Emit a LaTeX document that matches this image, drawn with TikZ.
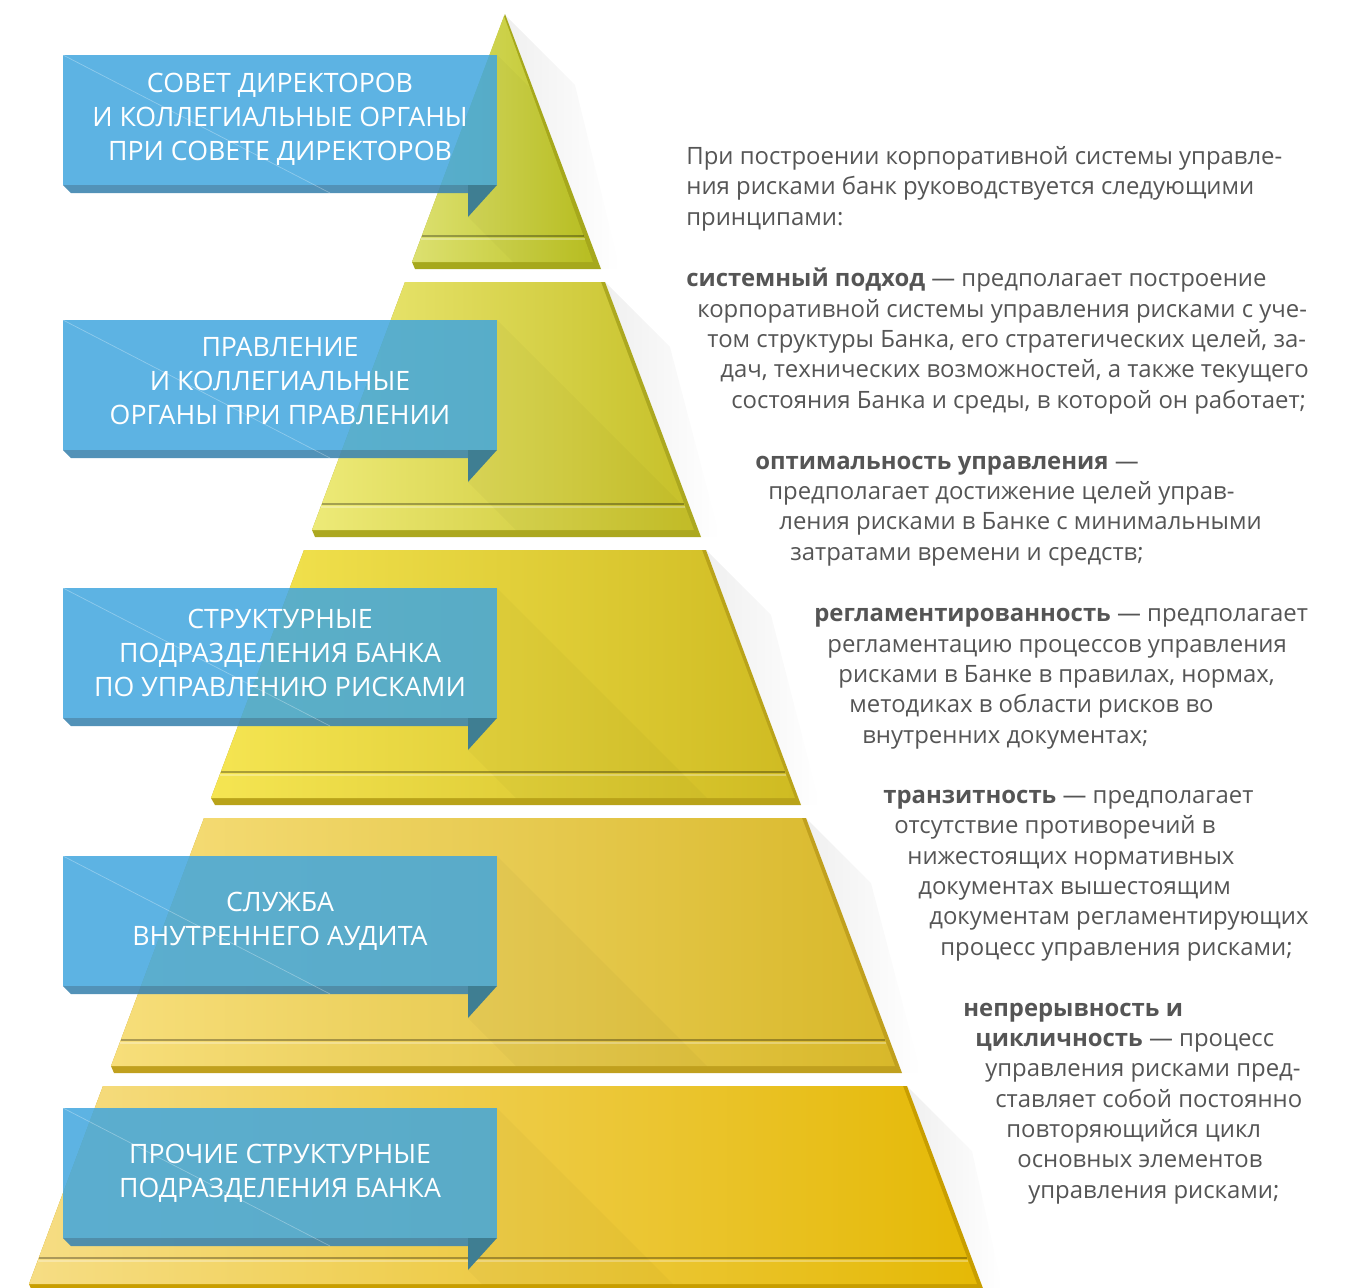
\documentclass[tikz,border=0pt]{standalone}
\usepackage{fontspec}
\setmainfont{Open Sans}
\definecolor{bannerblue}{HTML}{41A6DE}
\definecolor{bannerstrip}{HTML}{3F86B0}
\definecolor{bannerfold}{HTML}{3F7E92}
\definecolor{textgray}{HTML}{555555}
\definecolor{lvlAl}{HTML}{DCE070}\definecolor{lvlAm}{HTML}{C8D020}\definecolor{lvlAr}{HTML}{BCC222}\definecolor{lvlAd}{HTML}{A6A81C}
\definecolor{lvlBl}{HTML}{EDEA78}\definecolor{lvlBm}{HTML}{D6D232}\definecolor{lvlBr}{HTML}{C6C028}\definecolor{lvlBd}{HTML}{ACA820}
\definecolor{lvlCl}{HTML}{F5E552}\definecolor{lvlCm}{HTML}{E2CE30}\definecolor{lvlCr}{HTML}{CFBB22}\definecolor{lvlCd}{HTML}{B9A31A}
\definecolor{lvlDl}{HTML}{F7DE7A}\definecolor{lvlDm}{HTML}{ECCB3E}\definecolor{lvlDr}{HTML}{D8B82A}\definecolor{lvlDd}{HTML}{C0A01E}
\definecolor{lvlEl}{HTML}{F6DD84}\definecolor{lvlEm}{HTML}{EEC72E}\definecolor{lvlEr}{HTML}{E5B906}\definecolor{lvlEd}{HTML}{C89E00}
\newlength{\pixel}\setlength{\pixel}{0.02cm}
\newcommand{\indl}[1]{\hspace*{#1\pixel}}

\begin{document}
\begin{tikzpicture}[
            x=0.02cm, y=-0.02cm,
            lvlA/.style={left color=lvlAl, middle color=lvlAm, right color=lvlAr},
            lvlB/.style={left color=lvlBl, middle color=lvlBm, right color=lvlBr},
            lvlC/.style={left color=lvlCl, middle color=lvlCm, right color=lvlCr},
            lvlD/.style={left color=lvlDl, middle color=lvlDm, right color=lvlDr},
            lvlE/.style={left color=lvlEl, middle color=lvlEm, right color=lvlEr},
            sideshade/.style={left color=black!6, right color=white},
            groove/.style={draw=black, opacity=0.3, line width=0.9pt},
            glint/.style={draw=white, opacity=0.3, line width=0.8pt},
            castshade/.style={fill=black, opacity=0.025},
            banner/.style={fill=bannerblue, fill opacity=0.85},
            strip/.style={fill=bannerstrip, fill opacity=0.9},
            fold/.style={fill=bannerfold},
            btext/.style={text=white, align=center, inner sep=0pt, font=\fontsize{15.2}{19.3}\selectfont},
            para/.style={text=textgray, align=left, anchor=base west, inner sep=0pt, font=\fontsize{13.6}{17.25}\selectfont}
            ]
            \useasboundingbox (0,0) rectangle (1350,1288);
            % soft shadows right of the steps
            \path[sideshade] (505,15) -- (575,85) -- (620,269) -- (601,269) -- cycle;
            \path[sideshade] (605,282) -- (670,347) -- (720,537) -- (701,537) -- cycle;
            \path[sideshade] (706,550) -- (771,615) -- (820,805) -- (801,805) -- cycle;
            \path[sideshade] (806,818) -- (871,883) -- (921,1073) -- (902,1073) -- cycle;
            \path[sideshade] (907,1086) -- (972,1151) -- (1003,1291) -- (984,1291) -- cycle;

            % step 1
            \fill[lvlAd] (505,14) -- (601,269) -- (415,269) -- (412,262) -- cycle;
            \path[lvlA] (504,16) -- (593,262) -- (412,262) -- cycle;
            \draw[groove] (422,236) -- (584,236);
            \draw[glint] (421,239) -- (585,239);
            % step 2
            \fill[lvlBd] (405,282) -- (605,282) -- (701,537) -- (315,537) -- (312,530) -- cycle;
            \path[lvlB] (405,282) -- (601,282) -- (694,530) -- (312,530) -- cycle;
            \draw[groove] (322,504) -- (684,504);
            \draw[glint] (321,507) -- (685,507);
            % step 3
            \fill[lvlCd] (304,550) -- (706,550) -- (801,805) -- (215,805) -- (211,798) -- cycle;
            \path[lvlC] (304,550) -- (702,550) -- (795,798) -- (211,798) -- cycle;
            \draw[groove] (221,772) -- (785,772);
            \draw[glint] (220,775) -- (786,775);
            % step 4
            \fill[lvlDd] (204,818) -- (806,818) -- (902,1073) -- (114,1073) -- (111,1066) -- cycle;
            \path[lvlD] (204,818) -- (802,818) -- (895,1066) -- (111,1066) -- cycle;
            \draw[groove] (121,1040) -- (885,1040);
            \draw[glint] (120,1043) -- (886,1043);
            % step 5
            \fill[lvlEd] (103,1086) -- (907,1086) -- (984,1291) -- (32,1291) -- (29,1284) -- cycle;
            \path[lvlE] (103,1086) -- (903,1086) -- (977,1284) -- (29,1284) -- cycle;
            \draw[groove] (39,1258) -- (967,1258);
            \draw[glint] (38,1261) -- (968,1261);

            % shade cast by the banners
            \begin{scope}
              \clip (504,16) -- (593,262) -- (412,262) -- cycle;
              \fill[castshade] (497,55) -- (497,185) -- (468,217) -- (513,262) -- (704,262) -- cycle;
            \end{scope}
            \begin{scope}
              \clip (405,282) -- (601,282) -- (694,530) -- (312,530) -- cycle;
              \fill[castshade] (497,320) -- (497,450) -- (468,482) -- (516,530) -- (707,530) -- cycle;
            \end{scope}
            \begin{scope}
              \clip (304,550) -- (702,550) -- (795,798) -- (211,798) -- cycle;
              \fill[castshade] (497,588) -- (497,718) -- (468,750) -- (516,798) -- (707,798) -- cycle;
            \end{scope}
            \begin{scope}
              \clip (204,818) -- (802,818) -- (895,1066) -- (111,1066) -- cycle;
              \fill[castshade] (497,856) -- (497,986) -- (468,1018) -- (516,1066) -- (707,1066) -- cycle;
            \end{scope}
            \begin{scope}
              \clip (103,1086) -- (903,1086) -- (977,1284) -- (29,1284) -- cycle;
              \fill[castshade] (497,1108) -- (497,1238) -- (468,1270) -- (482,1284) -- (673,1284) -- cycle;
            \end{scope}

            % banners
            \fill[banner] (63,55) rectangle (497,185);
            \fill[strip] (63,185) -- (468,185) -- (468,193) -- (71,193) -- cycle;
            \fill[fold] (468,185) -- (497,185) -- (468,217) -- cycle;
            \draw[glint, line width=0.4pt] (63,55) -- (330,193);
            \fill[banner] (63,320) rectangle (497,450);
            \fill[strip] (63,450) -- (468,450) -- (468,458) -- (71,458) -- cycle;
            \fill[fold] (468,450) -- (497,450) -- (468,482) -- cycle;
            \draw[glint, line width=0.4pt] (63,320) -- (330,458);
            \fill[banner] (63,588) rectangle (497,718);
            \fill[strip] (63,718) -- (468,718) -- (468,726) -- (71,726) -- cycle;
            \fill[fold] (468,718) -- (497,718) -- (468,750) -- cycle;
            \draw[glint, line width=0.4pt] (63,588) -- (330,726);
            \fill[banner] (63,856) rectangle (497,986);
            \fill[strip] (63,986) -- (468,986) -- (468,994) -- (71,994) -- cycle;
            \fill[fold] (468,986) -- (497,986) -- (468,1018) -- cycle;
            \draw[glint, line width=0.4pt] (63,856) -- (330,994);
            \fill[banner] (63,1108) rectangle (497,1238);
            \fill[strip] (63,1238) -- (468,1238) -- (468,1246) -- (71,1246) -- cycle;
            \fill[fold] (468,1238) -- (497,1238) -- (468,1270) -- cycle;
            \draw[glint, line width=0.4pt] (63,1108) -- (330,1246);

            \node[btext] (board) at (280,119) {СОВЕТ ДИРЕКТОРОВ\\И КОЛЛЕГИАЛЬНЫЕ ОРГАНЫ\\ПРИ СОВЕТЕ ДИРЕКТОРОВ};
            \node[btext] (mgmt) at (280,381) {ПРАВЛЕНИЕ\\И КОЛЛЕГИАЛЬНЫЕ\\ОРГАНЫ ПРИ ПРАВЛЕНИИ};
            \node[btext] (riskunits) at (280,653) {СТРУКТУРНЫЕ\\ПОДРАЗДЕЛЕНИЯ БАНКА\\ПО УПРАВЛЕНИЮ РИСКАМИ};
            \node[btext] (audit) at (280,921) {СЛУЖБА\\ВНУТРЕННЕГО АУДИТА};
            \node[btext] (otherunits) at (280,1173) {ПРОЧИЕ СТРУКТУРНЫЕ\\ПОДРАЗДЕЛЕНИЯ БАНКА};

            % principles (anchored at the baseline of the last line)
            \node[para] (intro) at (686,225) {При построении корпоративной системы управле-\\ния рисками банк руководствуется следующими\\принципами:};
            \node[para] (systemic) at (686,408) {{\bfseries системный подход} — предполагает построение\\\indl{11}корпоративной системы управления рисками с уче-\\\indl{21}том структуры Банка, его стратегических целей, за-\\\indl{34}дач, технических возможностей, а также текущего\\\indl{45}состояния Банка и среды, в которой он работает;};
            \node[para] (optimal) at (755,560) {{\bfseries оптимальность управления} —\\\indl{13}предполагает достижение целей управ-\\\indl{24}ления рисками в Банке с минимальными\\\indl{35}затратами времени и средств;};
            \node[para] (regulated) at (814,743) {{\bfseries регламентированность} — предполагает\\\indl{13}регламентацию процессов управления\\\indl{24}рисками в Банке в правилах, нормах,\\\indl{35}методиках в области рисков во\\\indl{48}внутренних документах;};
            \node[para] (transit) at (883,955) {{\bfseries транзитность} — предполагает\\\indl{11}отсутствие противоречий в\\\indl{24}нижестоящих нормативных\\\indl{35}документах вышестоящим\\\indl{46}документам регламентирующих\\\indl{57}процесс управления рисками;};
            \node[para] (cyclic) at (963,1198) {{\bfseries непрерывность и}\\\indl{12}{\bfseries цикличность} — процесс\\\indl{22}управления рисками пред-\\\indl{32}ставляет собой постоянно\\\indl{43}повторяющийся цикл\\\indl{54}основных элементов\\\indl{65}управления рисками;};
        \end{tikzpicture}
\end{document}
